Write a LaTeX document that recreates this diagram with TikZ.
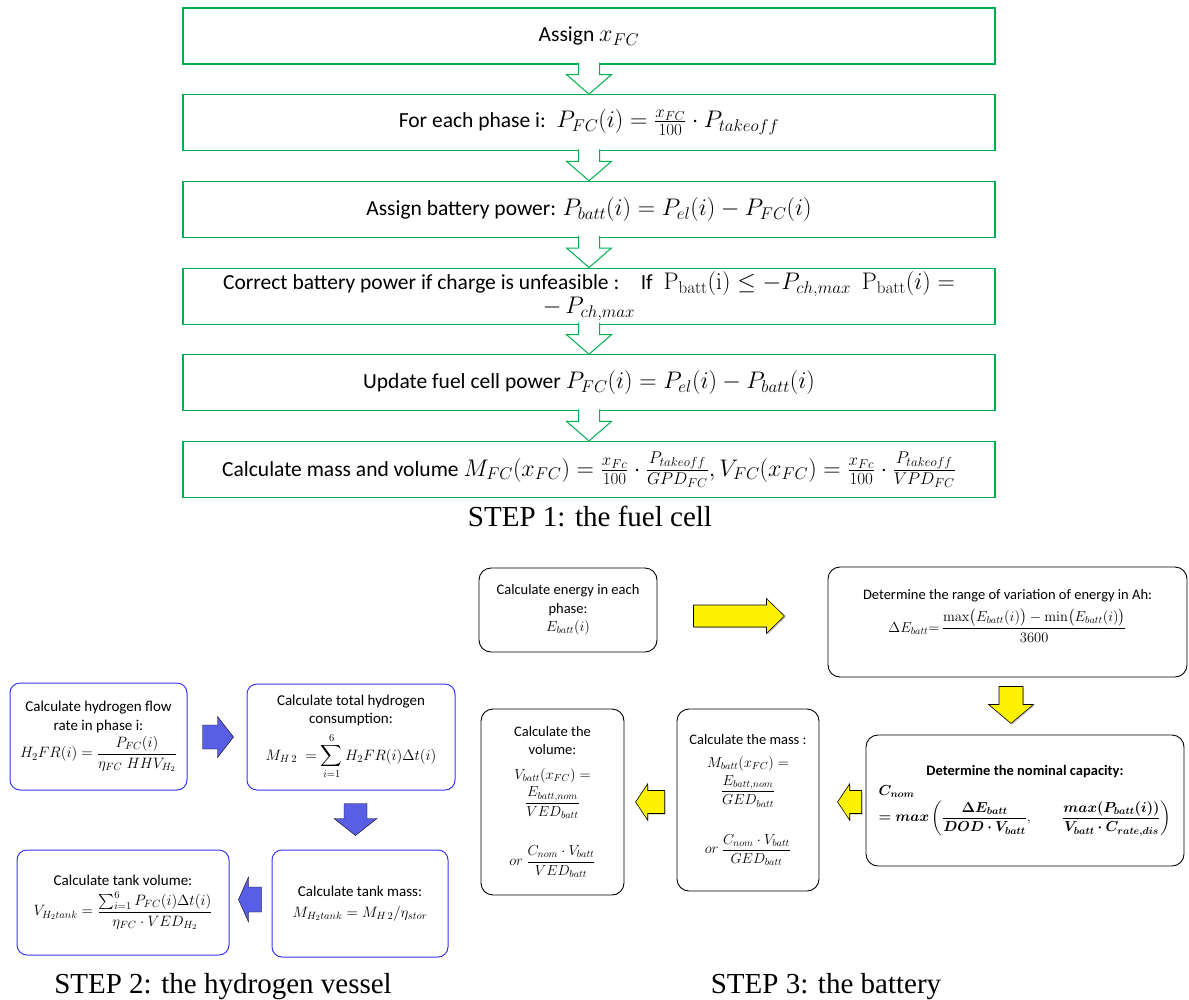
\RequirePackage{fix-cm}
\documentclass[tikz,border=0pt]{standalone}
\usepackage{amsmath}
\usepackage{amssymb}
\usepackage{bm}
\usepackage[no-math]{fontspec}
\setmainfont{Carlito}
\newfontfamily\timesfont{Liberation Serif}
\usetikzlibrary{calc,positioning,shadows}
\DeclareMathSizes{21.5}{24}{17}{13}

\definecolor{fcgreen}{RGB}{0,176,80}
\definecolor{hvessel}{RGB}{55,55,240}
\definecolor{harrow}{RGB}{89,94,230}

\begin{document}
\begin{tikzpicture}[x=1pt, y=-1pt,
          fcbox/.style = {draw=fcgreen, line width=1.2pt, minimum width=812pt, minimum height=56pt, inner ysep=1pt, align=center, font=\fontsize{21.5}{24}\selectfont},
          fcarrow/.style = {draw=fcgreen, line width=1pt, fill=white},
          hbox/.style = {draw=hvessel, line width=1pt, rounded corners=10pt, align=center, font=\fontsize{15}{18.5}\selectfont},
          harr/.style = {fill=harrow},
          bbox/.style = {draw, line width=0.9pt, rounded corners=12pt, align=center, font=\fontsize{14.5}{18.5}\selectfont},
          barr/.style = {draw, line width=0.6pt, fill=yellow, drop shadow={shadow xshift=1.2pt, shadow yshift=-1.2pt, fill=black!35, opacity=.6}},
          steplabel/.style = {anchor=base, font=\timesfont\fontsize{29}{32}\selectfont}]
        \useasboundingbox (0,0) rectangle (1189,999);
        % step 1: the fuel cell
        \node[fcbox] (assign) at (589,36) {Assign $x_{FC}$};
        \node[fcbox] (phase) [below=29.5pt of assign] {For each phase i:\enspace $P_{FC}(i)=\frac{x_{FC}}{100}\cdot P_{takeoff}$};
        \node[fcbox] (battp) [below=29.5pt of phase] {Assign battery power: $P_{batt}(i)=P_{el}(i)-P_{FC}(i)$};
        \node[fcbox] (correct) [below=29.5pt of battp] {Correct battery power if charge is unfeasible :\quad If\enspace $\mathrm{P_{batt}(i)}\leq -P_{ch,max}$\enspace $\mathrm{P_{batt}}(i)=$\\ $-\,P_{ch,max}$};
        \node[fcbox] (update) [below=29.5pt of correct] {Update fuel cell power $P_{FC}(i)=P_{el}(i)-P_{batt}(i)$};
        \node[fcbox] (massvol) [below=29.5pt of update] {Calculate mass and volume $M_{FC}(x_{FC})=\frac{x_{Fc}}{100}\cdot\frac{P_{takeoff}}{GPD_{FC}},V_{FC}(x_{FC})=\frac{x_{Fc}}{100}\cdot\frac{P_{takeoff}}{VPD_{FC}}$};
        \node[steplabel] (step1) at (590,526) {STEP 1: the fuel cell};
        \foreach \a/\b in {assign/phase, phase/battp, battp/correct, correct/update, update/massvol}
                 {
                   \draw[fcarrow] ($(\a.south)+(-10.5,-2)$) -- ($(\a.south)+(-10.5,10)$) -- ($(\a.south)+(-22.5,10)$) -- (\b.north) -- ($(\a.south)+(22.5,10)$) -- ($(\a.south)+(10.5,10)$) -- ($(\a.south)+(10.5,-2)$);
                 }
        % step 2: the hydrogen vessel
        \node[hbox, minimum width=177pt, minimum height=107pt] (flow) at (98.5,736.5) {Calculate hydrogen flow\\ rate in phase i:\\[3pt] $H_2FR(i)=\dfrac{P_{FC}(i)}{\eta_{FC}\;HHV_{H_2}}$};
        \node[hbox, minimum width=208pt, minimum height=106pt] (total) at (351,737) {Calculate total hydrogen\\ consumption:\\[6pt] $M_{H\,2}\;=\displaystyle\sum_{i=1}^{6}H_2FR(i)\Delta t(i)$};
        \node[hbox, minimum width=176pt, minimum height=107pt] (tmass) at (360,903.5) {Calculate tank mass:\\[2pt] $M_{H_2tank}=M_{H\,2}/\eta_{stor}$};
        \node[hbox, minimum width=212pt, minimum height=105pt] (tvol) at (123,902.5) {Calculate tank volume:\\[5pt] $V_{H_2tank}=\dfrac{\sum_{i=1}^{6}P_{FC}(i)\Delta t(i)}{\eta_{FC}\cdot VED_{H_2}}$};
        \node[steplabel] (step2) at (223,993) {STEP 2: the hydrogen vessel};
        \draw[harr, shift={($(flow.east)+(15,0.5)$)}] (0,-12) -- (15,-12) -- (15,-20.5) -- (31,0) -- (15,20.5) -- (15,12) -- (0,12) -- cycle;
        \draw[harr, shift={($(total.south)+(4.5,13)$)}] (-11.5,0) -- (-11.5,15) -- (-21.5,15) -- (0,32) -- (21.5,15) -- (11.5,15) -- (11.5,0) -- cycle;
        \draw[harr, shift={($(tmass.west)+(-10,-4)$)}] (0,-12.5) -- (-13,-12.5) -- (-13,-22.5) -- (-23,0) -- (-13,22.5) -- (-13,12.5) -- (0,12.5) -- cycle;
        % step 3: the battery
        \node[bbox, minimum width=178pt, minimum height=84pt] (energy) at (568,610) {Calculate energy in each\\ phase:\\ $E_{batt}(i)$};
        \node[bbox, minimum width=359pt, minimum height=110pt] (range) at (1007.5,622) {Determine the range of variation of energy in Ah:\\[6pt] $\Delta E_{batt}{=}\,\dfrac{\max\bigl(E_{batt}(i)\bigr)-\min\bigl(E_{batt}(i)\bigr)}{3600}$\\[4pt]};
        \node[bbox, minimum width=318pt, minimum height=131pt] (cnom) at (1025,800.5) {\textbf{Determine the nominal capacity:}\\[4pt]
          \begin{tabular}{@{}l@{}}
            $\bm{C_{nom}}$\\
            $\bm{=max}\left(\dfrac{\bm{\Delta E_{batt}}}{\bm{DOD\cdot V_{batt}}},\qquad\dfrac{\bm{max(P_{batt}(i))}}{\bm{V_{batt}\cdot C_{rate,dis}}}\right)$
          \end{tabular}};
        \node[bbox, minimum width=142pt, minimum height=182pt] (bmass) at (748,800) {Calculate the mass :\\[5pt] $M_{batt}(x_{FC})=$\\[3pt] $\dfrac{E_{batt,nom}}{GED_{batt}}$\\[26pt] $or\ \dfrac{C_{nom}\cdot V_{batt}}{GED_{batt}}$};
        \node[bbox, minimum width=143pt, minimum height=186pt] (bvol) at (552.5,802) {Calculate the\\ volume:\\[6pt] $V_{batt}(x_{FC})=$\\[3pt] $\dfrac{E_{batt,nom}}{VED_{batt}}$\\[26pt] $or\ \dfrac{C_{nom}\cdot V_{batt}}{VED_{batt}}$};
        \node[steplabel] (step3) at (826,993) {STEP 3: the battery};
        \draw[barr, shift={($(energy.east)+(36,6)$)}] (0,-11) -- (73,-11) -- (73,-17.5) -- (91,0) -- (73,17.5) -- (73,11) -- (0,11) -- cycle;
        \draw[barr, shift={($(range.south)+(3.5,9)$)}] (-12,0) -- (-12,18) -- (-22.5,18) -- (0,37) -- (22.5,18) -- (12,18) -- (12,0) -- cycle;
        \draw[barr, shift={($(cnom.west)+(-4,1.5)$)}] (0,-11.5) -- (-12,-11.5) -- (-12,-18) -- (-24,0) -- (-12,18) -- (-12,11.5) -- (0,11.5) -- cycle;
        \draw[barr, shift={($(bmass.west)+(-12,2)$)}] (0,-11.5) -- (-17,-11.5) -- (-17,-18) -- (-29,0) -- (-17,18) -- (-17,11.5) -- (0,11.5) -- cycle;
      \end{tikzpicture}
\end{document}
